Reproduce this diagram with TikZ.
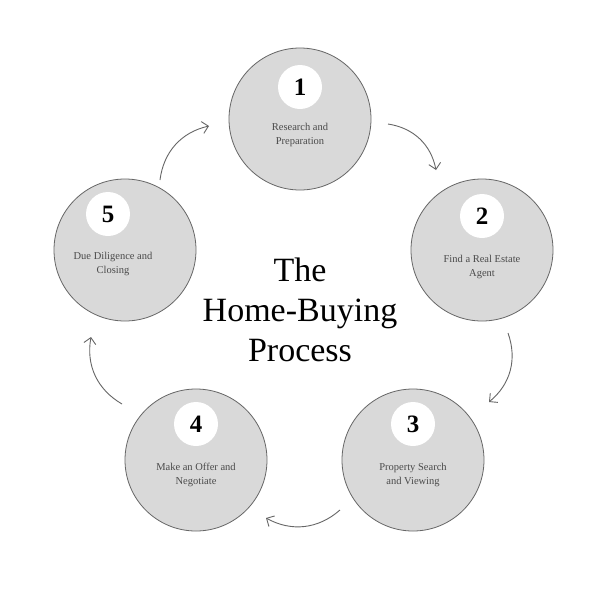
\documentclass[tikz,border=0pt]{standalone}
\usepackage{fontspec}
\setmainfont{Liberation Serif}
\usetikzlibrary{arrows.meta}
\definecolor{cfill}{HTML}{D9D9D9}
\definecolor{ctext}{HTML}{4A4A4A}
\definecolor{cline}{HTML}{666666}
\tikzset{
  stage/.style={circle,draw=cline,line width=0.8pt,fill=cfill,minimum size=142pt,inner sep=0pt},
  num/.style={circle,fill=white,minimum size=44pt,inner sep=0pt,font=\fontsize{25}{25}\selectfont\bfseries},
  lbl/.style={align=center,text=ctext,font=\fontsize{10.5}{14}\selectfont},
  flow/.style={draw=cline,line width=0.9pt,-{Straight Barb[length=6pt,width=12pt]}}
}
\begin{document}
\begin{tikzpicture}[x=1pt,y=-1pt]
\useasboundingbox[fill=white] (0,0) rectangle (600,600);
\node[stage] (c1) at (300,119) {};
\node[stage] (c2) at (482,250) {};
\node[stage] (c3) at (413,460) {};
\node[stage] (c4) at (196,460) {};
\node[stage] (c5) at (125,250) {};
\node[num] (n1) at (300,87) {1};
\node[num] (n2) at (482,216) {2};
\node[num] (n3) at (413,424) {3};
\node[num] (n4) at (196,424) {4};
\node[num] (n5) at (108,214) {5};
\node[lbl] (t1) at (300,135) {Research and\\Preparation};
\node[lbl] (t2) at (482,267) {Find a Real Estate\\Agent};
\node[lbl] (t3) at (413,475) {Property Search\\and Viewing};
\node[lbl] (t4) at (196,475) {Make an Offer and\\Negotiate};
\node[lbl] (t5) at (113,264) {Due Diligence and\\Closing};
\node[align=center,font=\fontsize{34}{40}\selectfont] (title) at (300,310) {The\\Home-Buying\\Process};
\coordinate (a1s) at (388,124); \coordinate (a1e) at (436,170);
\coordinate (a2s) at (508,333); \coordinate (a2e) at (489,402);
\coordinate (a3s) at (340,510); \coordinate (a3e) at (266,518);
\coordinate (a4s) at (122,404); \coordinate (a4e) at (91,337);
\coordinate (a5s) at (160,180); \coordinate (a5e) at (209,126);
\draw[flow] (a1s) to[bend left=35] (a1e);
\draw[flow] (a2s) to[bend left=35] (a2e);
\draw[flow] (a3s) to[bend left=35] (a3e);
\draw[flow] (a4s) to[bend left=35] (a4e);
\draw[flow] (a5s) to[bend left=35] (a5e);
\end{tikzpicture}
\end{document}
